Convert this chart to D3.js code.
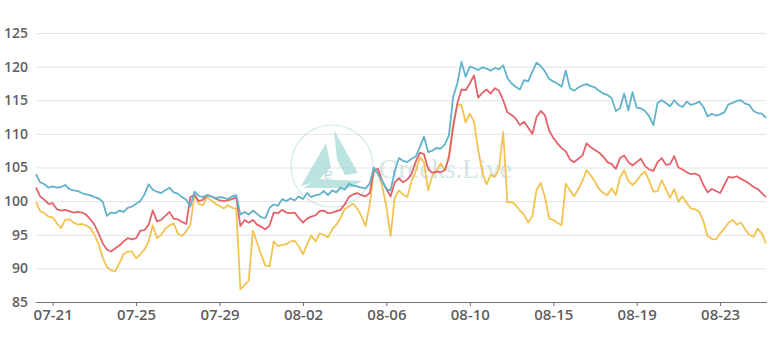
<!DOCTYPE html>
<html>
<head>
<meta charset="utf-8">
<script src="https://cdn.jsdelivr.net/npm/d3@7"></script>
<style>
  body { margin: 0; background: #fff; }
  svg { display: block; }
</style>
</head>
<body>
<div id="chart"></div>
<script>
// tick labels, placed every 20 samples starting at sample 4
var tickLabels = ["07-21", "07-25", "07-29", "08-02", "08-06", "08-10", "08-15", "08-19", "08-23"];
var tickIdx = [4, 24, 44, 64, 84, 104, 124, 144, 164];
var yTicks = [85, 90, 95, 100, 105, 110, 115, 120, 125];

var blueVals = [
  104.0, 102.8, 102.5, 102.0, 102.2, 102.0, 102.1, 102.4, 101.8, 101.6,
  101.5, 101.2, 101.0, 100.9, 100.6, 100.4, 99.9, 97.8, 98.3, 98.2,
  98.6, 98.4, 99.0, 99.2, 99.6, 100.0, 101.0, 102.5, 101.7, 101.4,
  101.2, 101.6, 102.0, 101.3, 101.1, 100.6, 100.2, 99.2, 101.4, 100.8,
  100.6, 100.9, 100.7, 100.4, 100.6, 100.5, 100.3, 100.7, 100.9, 98.0,
  98.4, 98.0, 98.6, 98.1, 97.6, 97.5, 99.0, 99.5, 99.3, 100.3,
  100.0, 100.4, 100.1, 100.7, 100.3, 101.2, 100.6, 100.9, 101.0, 101.5,
  100.9, 101.6, 101.3, 102.0, 101.7, 102.6, 102.3, 102.2, 102.0, 101.9,
  102.6, 105.0, 104.0, 103.0, 101.8, 101.6, 104.5, 106.4, 106.0, 105.8,
  106.3, 106.6, 108.0, 109.6, 107.3, 107.5, 107.9, 107.8, 108.4, 109.8,
  115.5, 117.5, 120.7, 118.5, 120.0, 119.8, 119.5, 119.9, 119.7, 119.4,
  119.8, 119.6, 120.2, 118.3, 117.5, 117.0, 116.6, 118.0, 117.8, 119.3,
  120.6, 120.1, 119.3, 118.2, 117.8, 117.5, 117.0, 119.4, 116.8, 116.4,
  116.9, 117.2, 117.4, 117.1, 116.9, 116.4, 116.0, 115.8, 115.3, 113.4,
  113.8, 116.0, 113.5, 116.2, 113.9, 113.8, 113.4, 112.6, 111.3, 114.6,
  115.0, 114.6, 114.1, 115.0, 114.3, 114.0, 114.8, 114.3, 114.5, 114.8,
  114.0, 112.6, 113.0, 112.7, 112.9, 113.2, 114.4, 114.6, 114.9, 115.0,
  114.5, 114.3, 113.4, 113.1, 113.0, 112.4
];

var redVals = [
  102.0, 100.7, 100.2, 99.6, 99.7, 98.8, 98.6, 98.7, 98.5, 98.3,
  98.4, 98.3, 98.0, 97.3, 96.5, 95.2, 93.7, 92.8, 92.5, 93.0,
  93.4, 94.0, 94.5, 94.3, 94.5, 95.6, 95.7, 96.5, 98.6, 97.0,
  97.2, 97.8, 98.4, 97.4, 97.3, 96.9, 96.6, 100.6, 100.9, 100.0,
  100.2, 100.9, 100.7, 100.4, 100.1, 100.0, 100.1, 100.3, 100.6, 96.3,
  97.2, 96.8, 97.2, 96.5, 96.2, 95.8, 96.4, 98.3, 98.2, 98.7,
  98.3, 98.2, 98.3, 97.5, 96.8, 97.4, 97.7, 97.9, 98.5, 98.6,
  98.2, 98.3, 98.5, 98.7, 99.5, 100.6, 101.0, 101.2, 100.9, 100.7,
  101.2, 104.6, 104.8, 103.0, 101.8, 100.7, 102.8, 103.4, 102.8, 103.2,
  104.0, 105.8, 107.2, 107.0, 104.8, 104.2, 104.4, 104.3, 104.6, 106.5,
  111.0, 114.5, 116.6, 116.5, 117.5, 118.7, 115.4, 116.1, 116.6, 116.0,
  116.8, 116.4, 115.0, 113.2, 112.8, 112.3, 111.3, 111.8, 110.9, 110.0,
  112.5, 113.4, 112.8, 110.5, 109.4, 108.6, 107.9, 107.4, 106.2, 105.8,
  106.3, 106.8, 108.6, 108.0, 107.6, 107.2, 106.6, 105.8, 105.5, 104.8,
  106.4, 106.8, 105.8, 105.3, 105.8, 106.3, 105.2, 104.7, 104.5, 105.8,
  106.4, 105.4, 105.5, 106.7, 105.0, 104.7, 104.3, 104.0, 104.1, 103.8,
  102.4, 101.3, 101.8, 101.5, 101.2, 102.4, 103.6, 103.5, 103.7, 103.3,
  103.0, 102.6, 102.1, 101.8, 101.2, 100.6
];

var yellowVals = [
  99.9, 98.5, 98.2, 97.7, 97.6, 96.7, 96.0, 97.2, 97.3, 96.8,
  96.5, 96.6, 96.4, 96.0, 95.0, 93.6, 91.6, 90.2, 89.7, 89.6,
  90.8, 92.1, 92.5, 92.5, 91.5, 92.1, 92.8, 94.0, 96.4, 94.5,
  95.0, 95.9, 96.4, 96.7, 95.2, 94.8, 95.5, 96.5, 101.0, 99.6,
  99.4, 100.6, 100.1, 99.6, 99.3, 98.9, 99.4, 99.0, 98.9, 86.9,
  87.5, 88.2, 95.6, 93.8, 92.0, 90.4, 90.3, 94.0, 93.3, 93.5,
  93.6, 94.0, 94.1, 93.3, 92.1, 93.6, 94.9, 94.0, 95.2, 95.0,
  94.6, 95.8, 96.5, 97.5, 98.8, 99.2, 99.6, 98.9, 97.8, 96.3,
  99.5, 104.5, 104.2, 102.2, 99.2, 94.8, 100.5, 101.6, 101.0, 100.6,
  102.9, 104.4, 106.5, 105.8, 101.6, 103.8, 104.5, 105.6, 104.6, 106.8,
  111.5, 114.3, 114.3, 111.7, 113.0, 111.8, 107.6, 104.3, 102.5, 103.9,
  103.6, 104.8, 110.3, 99.8, 99.9, 99.4, 98.6, 98.0, 96.8, 97.8,
  101.7, 102.7, 100.6, 97.4, 97.2, 96.8, 96.4, 102.6, 101.6, 100.7,
  101.8, 103.0, 104.6, 103.8, 102.9, 101.8, 101.2, 100.9, 101.9, 100.9,
  103.5, 104.6, 103.0, 102.4, 103.0, 103.9, 104.4, 103.0, 101.4, 101.5,
  103.1, 101.8, 100.5, 101.8, 99.9, 100.7, 99.7, 98.9, 98.8, 98.4,
  97.0, 94.8, 94.4, 94.3, 95.2, 95.9, 96.8, 97.2, 96.5, 96.8,
  95.8, 95.0, 94.7, 95.9, 95.2, 93.7
];

var seriesColors = ["#f2c350", "#e3626b", "#61b2cb"];

var width = 776, height = 347;
var plotL = 36, plotR = 766, plotT = 33, plotB = 302;

var svg = d3.select("#chart").append("svg")
    .attr("width", width)
    .attr("height", height);

var x = d3.scaleLinear().domain([0, blueVals.length - 1]).range([plotL, plotR]);
var y = d3.scaleLinear().domain([85, 125]).range([plotB, plotT]);

// grid + y labels
var yAxis = svg.append("g")
    .attr("transform", "translate(" + plotL + ",0)")
    .call(d3.axisLeft(y).tickValues(yTicks).tickSize(-(plotR - plotL)).tickPadding(8));
yAxis.select(".domain").remove();
yAxis.selectAll(".tick line").attr("stroke", "#e3e3e3");
yAxis.selectAll(".tick text")
    .attr("fill", "#5f5f5f")
    .style("font-family", "'Open Sans', sans-serif")
    .style("font-size", "14px")
    .style("font-weight", "600");

// watermark
var wm = svg.append("g").attr("opacity", 0.6);
wm.append("circle")
    .attr("cx", 332).attr("cy", 166).attr("r", 41)
    .attr("fill", "none").attr("stroke", "#b9dcdb").attr("stroke-width", 1.2);
var tri = [
  [[326, 143], [301, 186], [318, 181], [331, 167]],
  [[334, 130], [358, 173], [345, 175], [337, 160]],
  [[303, 188], [318, 179], [362, 181], [350, 188]]
];
tri.forEach(function(p) {
  wm.append("path")
      .attr("d", d3.line()(p) + "Z")
      .attr("fill", "#8fd3cc");
});
wm.append("text")
    .attr("x", 324).attr("y", 179)
    .attr("fill", "#86c9c2")
    .style("font-family", "'DejaVu Serif', serif")
    .style("font-size", "15px")
    .style("font-style", "italic")
    .text("e");
wm.append("text")
    .attr("x", 379).attr("y", 178)
    .attr("fill", "#b9d6d8")
    .style("font-family", "'Liberation Serif', serif")
    .style("font-size", "27px")
    .text("Greeks.Live");

// x axis
var xAxis = svg.append("g")
    .attr("transform", "translate(0," + plotB + ")")
    .call(d3.axisBottom(x).tickValues(tickIdx)
        .tickFormat(function(d, i) { return tickLabels[i]; })
        .tickSize(4).tickSizeOuter(0).tickPadding(3));
xAxis.select(".domain").attr("stroke", "#6e7079").attr("d", "M" + plotL + ",0.5H" + (plotR + 1));
xAxis.selectAll(".tick line").attr("stroke", "#6e7079");
xAxis.selectAll(".tick text")
    .attr("fill", "#5f5f5f")
    .style("font-family", "'Open Sans', sans-serif")
    .style("font-size", "15px")
    .style("font-weight", "600");

var line = d3.line()
    .x(function(d, i) { return x(i); })
    .y(function(d) { return y(d); });

[yellowVals, redVals, blueVals].forEach(function(vals, k) {
  svg.append("path")
      .datum(vals)
      .attr("d", line)
      .attr("fill", "none")
      .attr("stroke", seriesColors[k])
      .attr("stroke-width", 1.8)
      .attr("stroke-linejoin", "round");
});
</script>
</body>
</html>
